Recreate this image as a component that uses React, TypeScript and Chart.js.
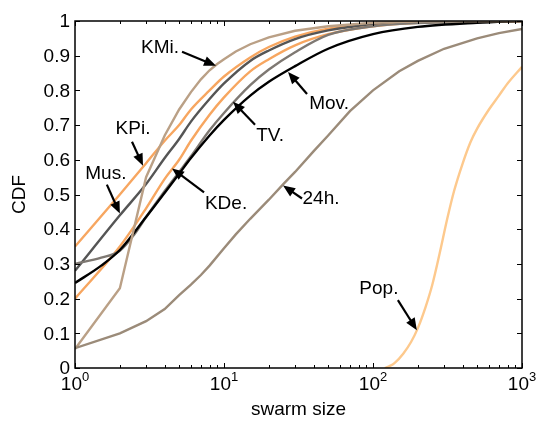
import React, { useEffect, useRef } from "react";
import { Chart, registerables } from "chart.js";
Chart.register(...registerables);

// ---- data (swarm size vs CDF) ----
const kmiX = [1, 2, 3, 4, 5, 6, 7, 8, 9, 10, 12, 15, 20, 30, 50, 100, 200, 1000];
const kmiY = [0.055, 0.23, 0.55, 0.67, 0.745, 0.795, 0.832, 0.858, 0.876, 0.89, 0.912, 0.933, 0.953, 0.972, 0.985, 0.995, 0.999, 1];

const kpiX = [1, 2, 3, 4, 5, 6, 8, 10, 15, 20, 30, 50, 100, 200, 1000];
const kpiY = [0.35, 0.5, 0.59, 0.655, 0.7, 0.745, 0.8, 0.84, 0.895, 0.925, 0.955, 0.978, 0.992, 0.998, 1];

const musX = [1, 2, 3, 4, 5, 6, 8, 10, 15, 20, 30, 50, 100, 200, 1000];
const musY = [0.28, 0.44, 0.53, 0.605, 0.66, 0.71, 0.775, 0.82, 0.885, 0.915, 0.948, 0.973, 0.99, 0.997, 1];

const kdeX = [1, 2, 3, 4, 5, 6, 8, 10, 15, 20, 30, 50, 100, 200, 1000];
const kdeY = [0.2, 0.35, 0.46, 0.545, 0.6, 0.655, 0.73, 0.78, 0.855, 0.89, 0.93, 0.962, 0.985, 0.995, 1];

const tvX = [1, 1.5, 2, 2.5, 3, 4, 5, 6, 8, 10, 15, 20, 30, 50, 100, 200, 500, 1000];
const tvY = [0.3, 0.318, 0.338, 0.385, 0.435, 0.51, 0.565, 0.61, 0.685, 0.735, 0.815, 0.86, 0.91, 0.96, 0.985, 0.994, 0.998, 1];

const movX = [1, 1.5, 2, 3, 4, 5, 6, 8, 10, 15, 20, 30, 50, 100, 200, 500, 1000];
const movY = [0.245, 0.295, 0.34, 0.435, 0.505, 0.56, 0.605, 0.67, 0.715, 0.785, 0.825, 0.87, 0.92, 0.962, 0.983, 0.995, 1];

const h24X = [1, 2, 3, 4, 5, 6, 7, 8, 10, 12, 15, 20, 25, 30, 40, 50, 70, 100, 150, 200, 300, 500, 700, 1000];
const h24Y = [0.057, 0.1, 0.135, 0.17, 0.21, 0.24, 0.268, 0.295, 0.345, 0.385, 0.43, 0.485, 0.53, 0.565, 0.625, 0.67, 0.74, 0.8, 0.855, 0.885, 0.92, 0.95, 0.965, 0.977];

const popX = [120, 130, 140, 160, 180, 200, 225, 250, 280, 315, 350, 400, 450, 500, 600, 700, 800, 1000];
const popY = [0, 0.006, 0.015, 0.042, 0.075, 0.115, 0.175, 0.24, 0.33, 0.43, 0.51, 0.59, 0.65, 0.69, 0.745, 0.785, 0.82, 0.868];

const yTickValues = [0, 0.1, 0.2, 0.3, 0.4, 0.5, 0.6, 0.7, 0.8, 0.9, 1];
const yTickLabels = ["0", "0.1", "0.2", "0.3", "0.4", "0.5", "0.6", "0.7", "0.8", "0.9", "1"];
const xDecades = [0, 1, 2, 3];

const C_TAN = "#baa086";
const C_ORANGE = "#f7a660";
const C_DGRAY = "#555555";
const C_GRAY = "#7e7872";
const C_BLACK = "#000000";
const C_BROWN = "#9b8b79";
const C_POP = "#fdc98d";

const FONT = "Liberation Sans, Arial, Helvetica, sans-serif";

// annotations: tip at data point, tail & label as pixel offsets from tip
const notes = [
  { text: "KMi.", x: 8.84, y: 0.871, tail: [-34, -14], label: [-56, -18] },
  { text: "KPi.", x: 2.86, y: 0.583, tail: [-11, -24], label: [-10, -37] },
  { text: "Mus.", x: 2.0, y: 0.445, tail: [-13, -29], label: [-14, -40] },
  { text: "KDe.", x: 4.48, y: 0.575, tail: [32, 24], label: [54, 35] },
  { text: "TV.", x: 11.5, y: 0.767, tail: [22, 23], label: [37, 34] },
  { text: "Mov.", x: 26.9, y: 0.853, tail: [19, 22], label: [41, 32] },
  { text: "24h.", x: 24.9, y: 0.526, tail: [19, 13], label: [38, 13] },
  { text: "Pop.", x: 197, y: 0.109, tail: [-19, -30], label: [-38, -41] },
];

function pts(xs: number[], ys: number[]) {
  return xs.map((x, i) => ({ x, y: ys[i] }));
}

function drawArrow(ctx: CanvasRenderingContext2D, sx: number, sy: number, tx: number, ty: number) {
  const dx = tx - sx, dy = ty - sy;
  const len = Math.hypot(dx, dy);
  const ux = dx / len, uy = dy / len;
  const headLen = 12, hw = 5;
  const bx = tx - ux * headLen, by = ty - uy * headLen;
  ctx.beginPath();
  ctx.moveTo(sx, sy);
  ctx.lineTo(bx + ux * 2, by + uy * 2);
  ctx.lineWidth = 2.2;
  ctx.strokeStyle = "#000";
  ctx.stroke();
  ctx.beginPath();
  ctx.moveTo(tx, ty);
  ctx.lineTo(bx - uy * hw, by + ux * hw);
  ctx.lineTo(bx + uy * hw, by - ux * hw);
  ctx.closePath();
  ctx.fillStyle = "#000";
  ctx.fill();
}

const framePlugin = {
  id: "framePlugin",
  afterDatasetsDraw(chart: any) {
    const ctx: CanvasRenderingContext2D = chart.ctx;
    const { left, right, top, bottom } = chart.chartArea;
    const xs = chart.scales.x;
    const ys = chart.scales.y;
    ctx.save();
    // annotations
    ctx.font = `19px ${FONT}`;
    ctx.textAlign = "center";
    ctx.textBaseline = "middle";
    ctx.fillStyle = "#000";
    for (const n of notes) {
      const tx = xs.getPixelForValue(n.x);
      const ty = ys.getPixelForValue(n.y);
      drawArrow(ctx, tx + n.tail[0], ty + n.tail[1], tx, ty);
      ctx.fillStyle = "#000";
      ctx.fillText(n.text, tx + n.label[0], ty + n.label[1]);
    }
    // box
    ctx.strokeStyle = "#000";
    ctx.lineWidth = 1.5;
    ctx.strokeRect(left, top, right - left, bottom - top);
    // y ticks
    ctx.lineWidth = 1;
    ctx.beginPath();
    for (const v of yTickValues) {
      const py = Math.round(ys.getPixelForValue(v)) + 0.5;
      ctx.moveTo(left, py); ctx.lineTo(left + 5, py);
      ctx.moveTo(right, py); ctx.lineTo(right - 5, py);
    }
    // x ticks (major + minor)
    for (let d = 0; d <= 3; d++) {
      for (let m = 1; m <= 9; m++) {
        if (d === 3 && m > 1) break;
        const v = m * Math.pow(10, d);
        const px = Math.round(xs.getPixelForValue(v)) + 0.5;
        const L = m === 1 ? 5 : 3;
        ctx.moveTo(px, bottom); ctx.lineTo(px, bottom - L);
        ctx.moveTo(px, top); ctx.lineTo(px, top + L);
      }
    }
    ctx.stroke();
    // y labels
    ctx.font = `19px ${FONT}`;
    ctx.textAlign = "right";
    ctx.textBaseline = "middle";
    yTickValues.forEach((v, i) => {
      ctx.fillText(yTickLabels[i], left - 5, ys.getPixelForValue(v) + 1);
    });
    // x labels 10^d
    ctx.textAlign = "left";
    ctx.textBaseline = "alphabetic";
    for (const d of xDecades) {
      const px = xs.getPixelForValue(Math.pow(10, d));
      ctx.font = `19px ${FONT}`;
      const w1 = ctx.measureText("10").width;
      ctx.font = `13px ${FONT}`;
      const w2 = ctx.measureText(String(d)).width;
      const sx = px - (w1 + w2) / 2;
      ctx.font = `19px ${FONT}`;
      ctx.fillText("10", sx, bottom + 22);
      ctx.font = `13px ${FONT}`;
      ctx.fillText(String(d), sx + w1, bottom + 13);
    }
    // axis titles
    ctx.font = `19px ${FONT}`;
    ctx.textAlign = "center";
    ctx.fillText("swarm size", (left + right) / 2, bottom + 47);
    ctx.save();
    ctx.translate(20, (top + bottom) / 2);
    ctx.rotate(-Math.PI / 2);
    ctx.textBaseline = "middle";
    ctx.fillText("CDF", 0, 0);
    ctx.restore();
    ctx.restore();
  },
};

export default function App() {
  const ref = useRef<HTMLCanvasElement>(null);
  useEffect(() => {
    document.body.style.margin = "0";
    const mk = (label: string, xs: number[], ys: number[], color: string, smooth: boolean) => ({
      label,
      data: pts(xs, ys),
      borderColor: color,
      borderWidth: 2.4,
      pointRadius: 0,
      fill: false,
      tension: 0,
      cubicInterpolationMode: smooth ? ("monotone" as const) : ("default" as const),
    });
    const chart = new Chart(ref.current!, {
      type: "line",
      data: {
        datasets: [
          mk("24h.", h24X, h24Y, C_BROWN, false),
          mk("Pop.", popX, popY, C_POP, true),
          mk("KMi.", kmiX, kmiY, C_TAN, false),
          mk("Mov.", movX, movY, C_BLACK, true),
          mk("TV.", tvX, tvY, C_GRAY, true),
          mk("KDe.", kdeX, kdeY, C_ORANGE, true),
          mk("Mus.", musX, musY, C_DGRAY, true),
          mk("KPi.", kpiX, kpiY, C_ORANGE, true),
        ],
      },
      options: {
        responsive: false,
        animation: false,
        layout: { padding: { left: 75, right: 18, top: 21, bottom: 53 } },
        plugins: { legend: { display: false }, tooltip: { enabled: false } },
        scales: {
          x: { type: "logarithmic", min: 1, max: 1000, display: false },
          y: { type: "linear", min: 0, max: 1, display: false },
        },
      },
      plugins: [framePlugin],
    });
    return () => chart.destroy();
  }, []);
  return (
    <div style={{ position: "absolute", left: 0, top: 0, width: 540, height: 421, background: "#fff" }}>
      <canvas ref={ref} width={540} height={421} style={{ display: "block" }} />
    </div>
  );
}
